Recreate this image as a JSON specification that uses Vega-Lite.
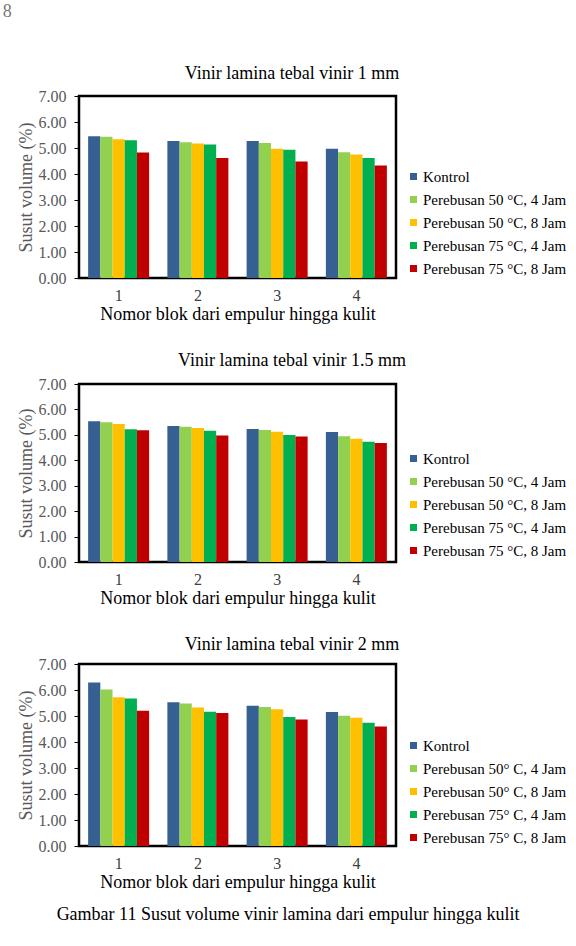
{
  "$schema": "https://vega.github.io/schema/vega-lite/v6.json",
  "background": "white",
  "padding": {"left": 2, "top": 2, "right": 5, "bottom": 5},
  "title": {"text": "8", "anchor": "start", "frame": "bounds", "fontSize": 18, "color": "#777777", "dx": -13, "offset": 43},
  "config": {
    "view": {"stroke": "black", "strokeWidth": 2.5},
    "font": "Liberation Serif",
    "title": {"font": "Liberation Serif", "fontSize": 18, "fontWeight": "normal", "color": "black"},
    "axis": {"labelFont": "Liberation Serif", "titleFont": "Liberation Serif", "labelFontSize": 16, "titleFontSize": 18, "titleFontWeight": "normal"},
    "axisX": {"labelAngle": 0, "ticks": false, "domain": false, "labelPadding": 9, "titlePadding": 2, "labelColor": "#404040", "titleColor": "black"},
    "axisY": {"grid": false, "domain": false, "tickSize": 5, "tickColor": "black", "labelPadding": 8, "titlePadding": 3, "labelColor": "#595959", "titleColor": "#595959"},
    "legend": {"orient": "none", "labelFont": "Liberation Serif", "labelFontSize": 15, "labelColor": "black", "symbolType": "square", "symbolSize": 49, "symbolStrokeWidth": 0, "rowPadding": 7, "padding": 0, "labelOffset": 2, "labelLimit": 300}
  },
  "datasets": {
    "p1": [
      {"blok": "1", "perlakuan": "Kontrol", "susut": 5.45},
      {"blok": "1", "perlakuan": "Perebusan 50 °C, 4 Jam", "susut": 5.43},
      {"blok": "1", "perlakuan": "Perebusan 50 °C, 8 Jam", "susut": 5.34},
      {"blok": "1", "perlakuan": "Perebusan 75 °C, 4 Jam", "susut": 5.30},
      {"blok": "1", "perlakuan": "Perebusan 75 °C, 8 Jam", "susut": 4.83},
      {"blok": "2", "perlakuan": "Kontrol", "susut": 5.27},
      {"blok": "2", "perlakuan": "Perebusan 50 °C, 4 Jam", "susut": 5.22},
      {"blok": "2", "perlakuan": "Perebusan 50 °C, 8 Jam", "susut": 5.17},
      {"blok": "2", "perlakuan": "Perebusan 75 °C, 4 Jam", "susut": 5.13},
      {"blok": "2", "perlakuan": "Perebusan 75 °C, 8 Jam", "susut": 4.62},
      {"blok": "3", "perlakuan": "Kontrol", "susut": 5.27},
      {"blok": "3", "perlakuan": "Perebusan 50 °C, 4 Jam", "susut": 5.19},
      {"blok": "3", "perlakuan": "Perebusan 50 °C, 8 Jam", "susut": 4.97},
      {"blok": "3", "perlakuan": "Perebusan 75 °C, 4 Jam", "susut": 4.93},
      {"blok": "3", "perlakuan": "Perebusan 75 °C, 8 Jam", "susut": 4.48},
      {"blok": "4", "perlakuan": "Kontrol", "susut": 4.97},
      {"blok": "4", "perlakuan": "Perebusan 50 °C, 4 Jam", "susut": 4.84},
      {"blok": "4", "perlakuan": "Perebusan 50 °C, 8 Jam", "susut": 4.75},
      {"blok": "4", "perlakuan": "Perebusan 75 °C, 4 Jam", "susut": 4.62},
      {"blok": "4", "perlakuan": "Perebusan 75 °C, 8 Jam", "susut": 4.33}
    ],
    "p2": [
      {"blok": "1", "perlakuan": "Kontrol", "susut": 5.54},
      {"blok": "1", "perlakuan": "Perebusan 50 °C, 4 Jam", "susut": 5.50},
      {"blok": "1", "perlakuan": "Perebusan 50 °C, 8 Jam", "susut": 5.43},
      {"blok": "1", "perlakuan": "Perebusan 75 °C, 4 Jam", "susut": 5.22},
      {"blok": "1", "perlakuan": "Perebusan 75 °C, 8 Jam", "susut": 5.18},
      {"blok": "2", "perlakuan": "Kontrol", "susut": 5.35},
      {"blok": "2", "perlakuan": "Perebusan 50 °C, 4 Jam", "susut": 5.32},
      {"blok": "2", "perlakuan": "Perebusan 50 °C, 8 Jam", "susut": 5.27},
      {"blok": "2", "perlakuan": "Perebusan 75 °C, 4 Jam", "susut": 5.16},
      {"blok": "2", "perlakuan": "Perebusan 75 °C, 8 Jam", "susut": 4.97},
      {"blok": "3", "perlakuan": "Kontrol", "susut": 5.23},
      {"blok": "3", "perlakuan": "Perebusan 50 °C, 4 Jam", "susut": 5.19},
      {"blok": "3", "perlakuan": "Perebusan 50 °C, 8 Jam", "susut": 5.12},
      {"blok": "3", "perlakuan": "Perebusan 75 °C, 4 Jam", "susut": 4.99},
      {"blok": "3", "perlakuan": "Perebusan 75 °C, 8 Jam", "susut": 4.94},
      {"blok": "4", "perlakuan": "Kontrol", "susut": 5.11},
      {"blok": "4", "perlakuan": "Perebusan 50 °C, 4 Jam", "susut": 4.95},
      {"blok": "4", "perlakuan": "Perebusan 50 °C, 8 Jam", "susut": 4.85},
      {"blok": "4", "perlakuan": "Perebusan 75 °C, 4 Jam", "susut": 4.73},
      {"blok": "4", "perlakuan": "Perebusan 75 °C, 8 Jam", "susut": 4.68}
    ],
    "p3": [
      {"blok": "1", "perlakuan": "Kontrol", "susut": 6.29},
      {"blok": "1", "perlakuan": "Perebusan 50° C, 4 Jam", "susut": 6.02},
      {"blok": "1", "perlakuan": "Perebusan 50° C, 8 Jam", "susut": 5.72},
      {"blok": "1", "perlakuan": "Perebusan 75° C, 4 Jam", "susut": 5.67},
      {"blok": "1", "perlakuan": "Perebusan 75° C, 8 Jam", "susut": 5.20},
      {"blok": "2", "perlakuan": "Kontrol", "susut": 5.53},
      {"blok": "2", "perlakuan": "Perebusan 50° C, 4 Jam", "susut": 5.48},
      {"blok": "2", "perlakuan": "Perebusan 50° C, 8 Jam", "susut": 5.33},
      {"blok": "2", "perlakuan": "Perebusan 75° C, 4 Jam", "susut": 5.16},
      {"blok": "2", "perlakuan": "Perebusan 75° C, 8 Jam", "susut": 5.12},
      {"blok": "3", "perlakuan": "Kontrol", "susut": 5.39},
      {"blok": "3", "perlakuan": "Perebusan 50° C, 4 Jam", "susut": 5.35},
      {"blok": "3", "perlakuan": "Perebusan 50° C, 8 Jam", "susut": 5.26},
      {"blok": "3", "perlakuan": "Perebusan 75° C, 4 Jam", "susut": 4.96},
      {"blok": "3", "perlakuan": "Perebusan 75° C, 8 Jam", "susut": 4.87},
      {"blok": "4", "perlakuan": "Kontrol", "susut": 5.15},
      {"blok": "4", "perlakuan": "Perebusan 50° C, 4 Jam", "susut": 5.01},
      {"blok": "4", "perlakuan": "Perebusan 50° C, 8 Jam", "susut": 4.93},
      {"blok": "4", "perlakuan": "Perebusan 75° C, 4 Jam", "susut": 4.74},
      {"blok": "4", "perlakuan": "Perebusan 75° C, 8 Jam", "susut": 4.60}
    ]
  },
  "vconcat": [
    {
      "title": {"text": "Gambar 11 Susut volume vinir lamina dari empulur hingga kulit", "orient": "bottom", "anchor": "middle", "frame": "bounds", "offset": 14, "dx": -4},
      "spacing": 25,
      "resolve": {"scale": {"color": "independent", "xOffset": "independent"}},
      "vconcat": [
        {
          "width": 317, "height": 182,
          "title": {"text": "Vinir lamina tebal vinir 1 mm", "frame": "bounds", "anchor": "middle", "offset": 5},
          "data": {"name": "p1"},
          "mark": {"type": "bar"},
          "encoding": {
            "x": {"field": "blok", "type": "nominal", "scale": {"paddingInner": 0.23, "paddingOuter": 0.115}, "axis": {"title": "Nomor blok dari empulur hingga kulit"}},
            "xOffset": {"field": "perlakuan", "type": "nominal", "scale": {"domain": ["Kontrol", "Perebusan 50 °C, 4 Jam", "Perebusan 50 °C, 8 Jam", "Perebusan 75 °C, 4 Jam", "Perebusan 75 °C, 8 Jam"], "paddingInner": 0, "paddingOuter": 0}},
            "y": {"field": "susut", "type": "quantitative", "scale": {"domain": [0, 7], "nice": false}, "axis": {"title": "Susut volume (%)", "values": [0, 1, 2, 3, 4, 5, 6, 7], "format": ".2f"}},
            "color": {"field": "perlakuan", "type": "nominal", "scale": {"domain": ["Kontrol", "Perebusan 50 °C, 4 Jam", "Perebusan 50 °C, 8 Jam", "Perebusan 75 °C, 4 Jam", "Perebusan 75 °C, 8 Jam"], "range": ["#376092", "#92D050", "#FFC000", "#00B050", "#C00000"]}, "legend": {"title": null, "legendX": 327, "legendY": 73}}
          }
        },
        {
          "width": 317, "height": 178,
          "title": {"text": "Vinir lamina tebal vinir 1.5 mm", "frame": "bounds", "anchor": "middle", "offset": 6},
          "data": {"name": "p2"},
          "mark": {"type": "bar"},
          "encoding": {
            "x": {"field": "blok", "type": "nominal", "scale": {"paddingInner": 0.23, "paddingOuter": 0.115}, "axis": {"title": "Nomor blok dari empulur hingga kulit"}},
            "xOffset": {"field": "perlakuan", "type": "nominal", "scale": {"domain": ["Kontrol", "Perebusan 50 °C, 4 Jam", "Perebusan 50 °C, 8 Jam", "Perebusan 75 °C, 4 Jam", "Perebusan 75 °C, 8 Jam"], "paddingInner": 0, "paddingOuter": 0}},
            "y": {"field": "susut", "type": "quantitative", "scale": {"domain": [0, 7], "nice": false}, "axis": {"title": "Susut volume (%)", "values": [0, 1, 2, 3, 4, 5, 6, 7], "format": ".2f"}},
            "color": {"field": "perlakuan", "type": "nominal", "scale": {"domain": ["Kontrol", "Perebusan 50 °C, 4 Jam", "Perebusan 50 °C, 8 Jam", "Perebusan 75 °C, 4 Jam", "Perebusan 75 °C, 8 Jam"], "range": ["#376092", "#92D050", "#FFC000", "#00B050", "#C00000"]}, "legend": {"title": null, "legendX": 327, "legendY": 67}}
          }
        },
        {
          "width": 317, "height": 182,
          "title": {"text": "Vinir lamina tebal vinir 2 mm", "frame": "bounds", "anchor": "middle", "offset": 2},
          "data": {"name": "p3"},
          "mark": {"type": "bar"},
          "encoding": {
            "x": {"field": "blok", "type": "nominal", "scale": {"paddingInner": 0.23, "paddingOuter": 0.115}, "axis": {"title": "Nomor blok dari empulur hingga kulit"}},
            "xOffset": {"field": "perlakuan", "type": "nominal", "scale": {"domain": ["Kontrol", "Perebusan 50° C, 4 Jam", "Perebusan 50° C, 8 Jam", "Perebusan 75° C, 4 Jam", "Perebusan 75° C, 8 Jam"], "paddingInner": 0, "paddingOuter": 0}},
            "y": {"field": "susut", "type": "quantitative", "scale": {"domain": [0, 7], "nice": false}, "axis": {"title": "Susut volume (%)", "values": [0, 1, 2, 3, 4, 5, 6, 7], "format": ".2f"}},
            "color": {"field": "perlakuan", "type": "nominal", "scale": {"domain": ["Kontrol", "Perebusan 50° C, 4 Jam", "Perebusan 50° C, 8 Jam", "Perebusan 75° C, 4 Jam", "Perebusan 75° C, 8 Jam"], "range": ["#376092", "#92D050", "#FFC000", "#00B050", "#C00000"]}, "legend": {"title": null, "legendX": 327, "legendY": 74}}
          }
        }
      ]
    }
  ]
}
